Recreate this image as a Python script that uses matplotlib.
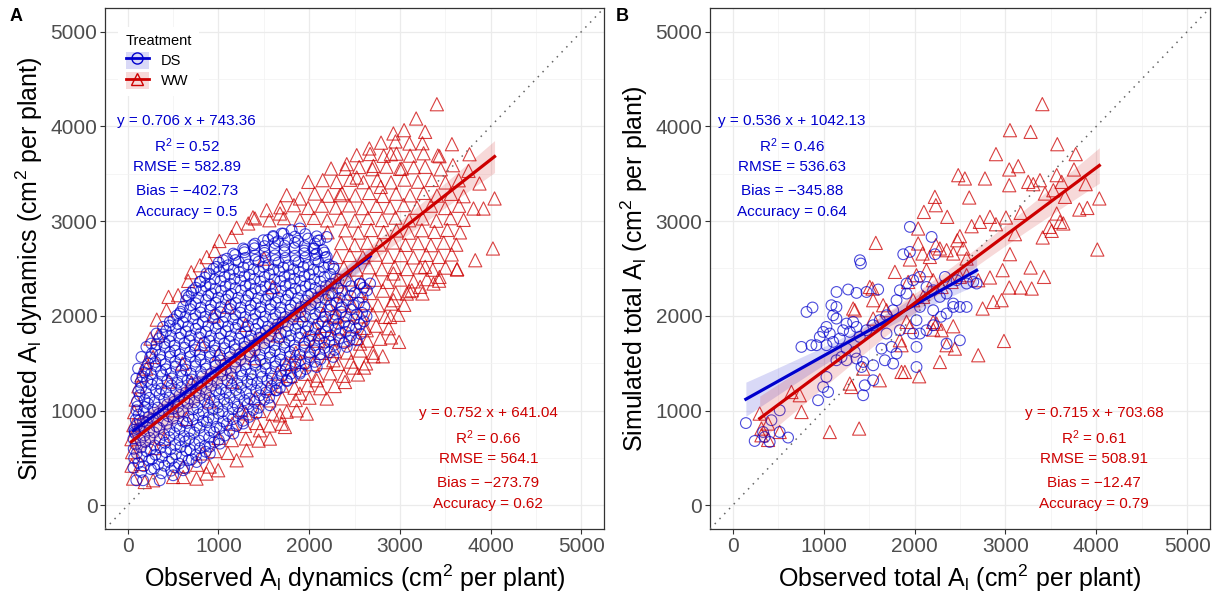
import numpy as np
import matplotlib
matplotlib.use("Agg")
import matplotlib.pyplot as plt
from matplotlib.lines import Line2D
from matplotlib.patches import Patch

plt.rcParams['font.family'] = ['Liberation Sans', 'DejaVu Sans']
plt.rcParams['mathtext.default'] = 'regular'

BLUE = '#0000CD'
RED = '#CD0000'

# ---- panel A: leaf area dynamics, (observed, simulated) pairs ----
ds_dyn = [
    (1898, 2922), (1807, 2904), (1696, 2869), (1604, 2833), (1494, 2798), (1383, 2745), (1273, 2711),
    (1163, 2657), (1052, 2587), (979, 2517), (869, 2447), (795, 2358), (721, 2270), (648, 2218),
    (2193, 2833), (2119, 2798), (2045, 2711), (2193, 2622), (2083, 2657), (2266, 2517), (2561, 2341),
    (2671, 2341), (2524, 1742), (2414, 1672), (2266, 1566), (2083, 1460), (1898, 1390), (1752, 1320),
    (1641, 1214), (1567, 1056), (1420, 968), (1273, 863), (1163, 757), (1015, 651), (905, 546),
    (758, 457), (611, 370), (500, 317), (353, 264), (169, 264), (95, 264), (114, 1443), (95, 1338),
    (151, 1566), (206, 1672), (261, 1707), (317, 1813), (390, 1883), (464, 1936), (574, 2024),
    (188, 1038), (132, 898), (77, 774),
    (148, 352), (255, 381), (372, 338), (478, 366),
    (118, 447), (236, 472), (335, 431), (452, 458), (566, 441), (671, 476),
    (98, 548), (207, 571), (306, 533), (418, 562), (531, 540), (645, 575), (752, 529), (858, 566),
    (88, 642), (193, 668), (297, 631), (412, 659), (523, 637), (634, 672), (737, 646), (851, 625), (954, 668),
    (82, 758), (184, 737), (288, 770), (398, 744), (513, 762), (619, 731), (733, 768), (842, 742),
    (951, 771), (1068, 736),
    (103, 845), (211, 873), (318, 832), (433, 861), (538, 838), (652, 869), (761, 841), (872, 876),
    (978, 829), (1093, 858), (1198, 835),
    (121, 958), (229, 929), (343, 965), (449, 941), (562, 972), (668, 936), (783, 959), (891, 928),
    (1003, 967), (1108, 940), (1224, 971), (1338, 933),
    (108, 1043), (224, 1072), (331, 1031), (437, 1066), (553, 1038), (662, 1074), (768, 1029),
    (884, 1061), (992, 1035), (1097, 1070), (1213, 1041), (1322, 1068), (1443, 1030),
    (133, 1162), (238, 1134), (352, 1171), (458, 1138), (572, 1166), (677, 1129), (793, 1158),
    (902, 1133), (1008, 1173), (1124, 1139), (1228, 1168), (1343, 1127), (1457, 1161), (1558, 1136),
    (148, 1238), (263, 1272), (368, 1231), (483, 1266), (588, 1243), (703, 1275), (808, 1236),
    (923, 1262), (1027, 1229), (1143, 1268), (1248, 1241), (1362, 1273), (1468, 1233), (1583, 1259),
    (1677, 1238),
    (163, 1362), (268, 1331), (383, 1371), (487, 1339), (603, 1365), (707, 1328), (823, 1361),
    (928, 1334), (1043, 1372), (1148, 1343), (1263, 1369), (1367, 1331), (1483, 1358), (1588, 1337),
    (1702, 1366), (1808, 1342),
    (203, 1441), (308, 1469), (423, 1436), (527, 1462), (643, 1431), (748, 1467), (863, 1442),
    (967, 1471), (1083, 1433), (1188, 1459), (1303, 1438), (1407, 1472), (1523, 1444), (1628, 1466),
    (1743, 1432), (1847, 1461), (1962, 1439),
    (247, 1562), (363, 1534), (468, 1568), (583, 1541), (688, 1571), (803, 1537), (907, 1566),
    (1023, 1529), (1127, 1563), (1243, 1538), (1348, 1572), (1463, 1533), (1567, 1561), (1683, 1539),
    (1788, 1568), (1903, 1531), (2007, 1563), (2123, 1542),
    (303, 1642), (407, 1671), (523, 1633), (628, 1662), (743, 1638), (847, 1669), (963, 1631),
    (1067, 1658), (1183, 1644), (1287, 1673), (1403, 1636), (1508, 1661), (1623, 1632), (1727, 1668),
    (1843, 1641), (1947, 1672), (2063, 1635), (2167, 1662), (2283, 1641),
    (347, 1762), (463, 1733), (567, 1768), (683, 1741), (787, 1772), (903, 1736), (1007, 1763),
    (1123, 1731), (1227, 1758), (1343, 1742), (1447, 1769), (1563, 1734), (1667, 1762), (1783, 1738),
    (1887, 1771), (2003, 1735), (2107, 1757), (2223, 1729), (2327, 1761), (2443, 1738),
    (423, 1842), (527, 1868), (643, 1836), (747, 1863), (863, 1831), (967, 1867), (1083, 1839),
    (1187, 1872), (1303, 1834), (1407, 1861), (1523, 1843), (1627, 1869), (1743, 1832), (1847, 1864),
    (1963, 1838), (2067, 1871), (2183, 1835), (2287, 1862), (2403, 1831), (2517, 1866),
    (503, 1961), (607, 1934), (723, 1968), (827, 1941), (943, 1972), (1047, 1936), (1163, 1963),
    (1267, 1929), (1383, 1966), (1487, 1938), (1603, 1971), (1707, 1933), (1823, 1962), (1927, 1937),
    (2043, 1969), (2147, 1941), (2263, 1958), (2383, 1932), (2497, 1964), (2603, 1942),
    (583, 2043), (687, 2071), (803, 2036), (907, 2064), (1023, 2039), (1127, 2072), (1243, 2033),
    (1347, 2062), (1463, 2041), (1567, 2069), (1683, 2032), (1787, 2066), (1903, 2038), (2007, 2071),
    (2123, 2035), (2227, 2063), (2353, 2044), (2457, 2068), (2583, 2031),
    (643, 2162), (747, 2133), (863, 2166), (967, 2139), (1083, 2171), (1187, 2136), (1303, 2163),
    (1407, 2131), (1523, 2168), (1627, 2142), (1743, 2169), (1847, 2134), (1963, 2161), (2067, 2137),
    (2183, 2172), (2303, 2139), (2423, 2164), (2547, 2138),
    (703, 2241), (807, 2268), (923, 2236), (1027, 2263), (1143, 2231), (1247, 2267), (1363, 2238),
    (1467, 2271), (1583, 2233), (1687, 2262), (1803, 2242), (1907, 2269), (2023, 2232), (2127, 2264),
    (2253, 2237), (2367, 2266), (2503, 2243), (2637, 2268),
    (803, 2362), (907, 2334), (1023, 2367), (1127, 2338), (1243, 2371), (1347, 2336), (1463, 2363),
    (1567, 2332), (1683, 2366), (1787, 2341), (1903, 2369), (2007, 2335), (2123, 2362), (2243, 2338),
    (2403, 2366), (2557, 2334),
    (903, 2443), (1007, 2469), (1123, 2437), (1227, 2462), (1343, 2434), (1447, 2468), (1563, 2441),
    (1667, 2472), (1783, 2436), (1887, 2464), (2003, 2439), (2107, 2467), (2233, 2442),
    (1003, 2562), (1107, 2534), (1223, 2568), (1327, 2541), (1443, 2571), (1547, 2536), (1663, 2563),
    (1767, 2532), (1883, 2566), (1987, 2538), (2103, 2569), (2217, 2541),
    (1183, 2643), (1287, 2671), (1403, 2637), (1507, 2664), (1623, 2639), (1727, 2672), (1843, 2634),
    (1947, 2661), (2063, 2642), (2167, 2668),
    (1403, 2762), (1507, 2736), (1623, 2768), (1727, 2741), (1843, 2771), (1947, 2737), (2063, 2764),
    (1603, 2843), (1717, 2868), (1843, 2836), (1957, 2862), (2083, 2839),
    # second sweep of readings between the rows above
    (62, 396), (176, 412), (291, 389), (405, 418), (517, 401), (622, 393),
    (71, 497), (155, 512), (268, 489), (377, 508), (489, 494), (598, 515), (706, 486), (812, 503),
    (66, 596), (148, 611), (252, 588), (363, 607), (471, 592), (582, 614), (689, 585), (796, 603), (905, 619),
    (63, 703), (139, 688), (243, 712), (352, 694), (458, 718), (571, 689), (678, 706), (789, 683),
    (897, 714), (1003, 691),
    (72, 797), (131, 812), (236, 789), (348, 816), (461, 794), (573, 809), (684, 786), (792, 818),
    (906, 791), (1016, 813), (1121, 787),
    (88, 904), (168, 887), (277, 912), (389, 893), (503, 917), (608, 884), (719, 908), (829, 891),
    (942, 914), (1052, 886), (1158, 909), (1271, 892),
    (95, 1003), (176, 988), (281, 1012), (392, 994), (497, 1017), (611, 989), (719, 1011), (833, 986),
    (938, 1009), (1046, 992), (1157, 1016), (1266, 987), (1382, 1007),
    (102, 1097), (187, 1112), (296, 1089), (401, 1116), (513, 1093), (622, 1111), (737, 1087),
    (846, 1114), (953, 1094), (1062, 1118), (1174, 1088), (1286, 1109), (1397, 1092), (1503, 1113),
    (118, 1204), (202, 1189), (312, 1213), (421, 1196), (533, 1218), (641, 1191), (753, 1209),
    (862, 1186), (974, 1214), (1083, 1193), (1192, 1217), (1306, 1188), (1414, 1211), (1526, 1192),
    (1628, 1213),
    (142, 1297), (217, 1312), (327, 1288), (436, 1314), (548, 1293), (658, 1316), (767, 1289),
    (876, 1311), (987, 1294), (1098, 1318), (1207, 1287), (1318, 1309), (1427, 1292), (1538, 1316),
    (1647, 1289), (1754, 1311),
    (182, 1403), (256, 1388), (366, 1412), (474, 1394), (587, 1417), (696, 1391), (806, 1409),
    (918, 1386), (1027, 1414), (1136, 1392), (1248, 1416), (1357, 1387), (1466, 1411), (1577, 1393),
    (1688, 1418), (1797, 1389), (1902, 1409),
    (226, 1497), (304, 1513), (414, 1489), (523, 1515), (636, 1492), (744, 1516), (856, 1487),
    (963, 1512), (1077, 1494), (1184, 1518), (1297, 1489), (1406, 1511), (1516, 1493), (1627, 1517),
    (1737, 1488), (1846, 1512), (1957, 1491), (2061, 1514),
    (268, 1603), (356, 1588), (465, 1613), (574, 1594), (686, 1617), (793, 1589), (906, 1611),
    (1014, 1586), (1126, 1614), (1235, 1592), (1346, 1617), (1456, 1588), (1568, 1612), (1677, 1594),
    (1788, 1618), (1896, 1589), (2008, 1611), (2118, 1593), (2226, 1615),
    (318, 1697), (406, 1713), (515, 1688), (626, 1714), (733, 1691), (846, 1716), (955, 1687),
    (1066, 1711), (1176, 1693), (1286, 1718), (1396, 1689), (1506, 1712), (1617, 1692), (1727, 1716),
    (1837, 1688), (1947, 1713), (2057, 1691), (2168, 1717), (2278, 1694), (2383, 1712),
    (383, 1803), (476, 1788), (586, 1812), (694, 1791), (806, 1816), (916, 1789), (1027, 1811),
    (1136, 1787), (1247, 1814), (1357, 1792), (1466, 1817), (1577, 1788), (1687, 1812), (1796, 1793),
    (1907, 1815), (2017, 1789), (2127, 1811), (2237, 1794), (2347, 1818), (2461, 1791), (2566, 1809),
    (463, 1897), (556, 1913), (666, 1888), (776, 1912), (887, 1893), (996, 1916), (1107, 1889),
    (1216, 1911), (1327, 1892), (1437, 1917), (1547, 1887), (1656, 1912), (1767, 1894), (1876, 1916),
    (1987, 1888), (2097, 1913), (2207, 1891), (2321, 1915), (2441, 1893), (2558, 1911),
    (541, 2003), (636, 1988), (746, 2012), (856, 1992), (966, 2015), (1076, 1989), (1186, 2011),
    (1296, 1987), (1406, 2014), (1516, 1993), (1627, 2016), (1736, 1988), (1847, 2011), (1956, 1994),
    (2066, 2017), (2176, 1989), (2292, 2012), (2406, 1992), (2523, 2015), (2632, 1996),
    (611, 2097), (697, 2113), (807, 2088), (917, 2112), (1027, 2093), (1137, 2116), (1247, 2089),
    (1357, 2111), (1467, 2092), (1577, 2117), (1687, 2088), (1797, 2112), (1907, 2094), (2017, 2116),
    (2127, 2089), (2241, 2113), (2361, 2091), (2486, 2114), (2606, 2095),
    (673, 2203), (777, 2188), (887, 2212), (997, 2191), (1107, 2216), (1217, 2189), (1327, 2211),
    (1437, 2187), (1547, 2214), (1657, 2192), (1767, 2217), (1877, 2188), (1987, 2211), (2097, 2193),
    (2212, 2216), (2332, 2189), (2456, 2212), (2588, 2194),
    (751, 2297), (857, 2313), (967, 2288), (1077, 2312), (1187, 2293), (1297, 2316), (1407, 2289),
    (1517, 2311), (1627, 2292), (1737, 2317), (1847, 2288), (1957, 2312), (2067, 2294), (2187, 2316),
    (2318, 2291), (2462, 2313), (2601, 2296),
    (852, 2403), (957, 2388), (1067, 2412), (1177, 2391), (1287, 2416), (1397, 2389), (1507, 2411),
    (1617, 2387), (1727, 2414), (1837, 2392), (1947, 2417), (2057, 2388), (2167, 2411), (2296, 2393),
    (946, 2497), (1057, 2513), (1167, 2488), (1277, 2512), (1387, 2493), (1497, 2516), (1607, 2489),
    (1717, 2511), (1827, 2492), (1937, 2517), (2047, 2488), (2162, 2511), (2271, 2494),
    (1092, 2603), (1187, 2588), (1297, 2612), (1407, 2591), (1517, 2616), (1627, 2589), (1737, 2611),
    (1847, 2587), (1957, 2614), (2067, 2593), (2177, 2616),
    (1288, 2697), (1397, 2713), (1507, 2688), (1617, 2712), (1727, 2693), (1837, 2716), (1947, 2689),
    (2057, 2711), (2151, 2694),
    (1547, 2803), (1657, 2788), (1767, 2812), (1877, 2791), (1987, 2816), (2097, 2794),
]

ww_dyn = [
    (3407, 4234), (3179, 4083), (3046, 3960), (2928, 3925), (3278, 3942), (2792, 3828), (3105, 3819),
    (3573, 3812), (2663, 3767), (2900, 3706), (2524, 3696), (3436, 3685), (3767, 3706), (2414, 3601),
    (2708, 3583), (3021, 3555), (3278, 3573), (3584, 3590), (2241, 3555), (2524, 3460), (3756, 3530),
    (1990, 3414), (2149, 3432), (3877, 3397), (1752, 3274), (1898, 3239), (2340, 3274), (2789, 3361),
    (4043, 3239), (3811, 3133), (3921, 3133), (1531, 3115), (1678, 3080), (1328, 2975), (1145, 2833),
    (960, 2685), (795, 2534), (666, 2369), (4025, 2711), (3830, 2587), (3628, 2489), (3436, 2411),
    (3278, 2517), (3131, 2270), (2928, 2447),
    (2991, 1725), (2708, 1573), (2811, 1573), (2487, 1454), (2605, 1454), (2395, 1302), (2193, 1127),
    (1973, 968), (1733, 827), (1678, 950), (1567, 704), (1457, 792), (1310, 581), (1200, 475),
    (997, 370), (868, 335), (758, 282), (611, 299), (500, 299), (280, 264), (188, 246), (59, 282),
    (2928, 2165), (3076, 2235), (3223, 2306), (3370, 2341), (2892, 1988), (2634, 1848), (2561, 1707),
    (2266, 1531), (2083, 1320), (1898, 1179), (555, 2218), (335, 1795), (206, 1443), (280, 1566),
    (427, 2059), (870, 2620), (1010, 2790), (1200, 2930), (700, 2460), (450, 2200), (320, 1960),
    (250, 1760), (1380, 3040),
    (42, 418), (142, 436), (612, 411), (763, 428), (903, 409),
    (48, 561), (827, 548), (961, 572), (1103, 553),
    (41, 698), (1002, 712), (1148, 688), (1302, 706), (1443, 683),
    (62, 846), (1152, 862), (1294, 838), (1421, 869), (1563, 842), (1698, 861),
    (71, 984), (1303, 971), (1452, 996), (1598, 967), (1752, 988), (1862, 1002),
    (88, 1116), (1404, 1133), (1561, 1108), (1703, 1129), (1851, 1111), (2003, 1136),
    (118, 1256), (1553, 1238), (1702, 1263), (1838, 1241), (1983, 1268), (2122, 1236), (2281, 1259),
    (152, 1372), (1652, 1391), (1797, 1366), (1952, 1388), (2093, 1369), (2232, 1393), (2381, 1367),
    (2538, 1381),
    (203, 1508), (1748, 1492), (1902, 1514), (2041, 1489), (2183, 1511), (2318, 1493), (2462, 1517),
    (2627, 1498),
    (1853, 1611), (2003, 1633), (2138, 1609), (2283, 1628), (2418, 1613), (2562, 1634), (2703, 1611),
    (1952, 1761), (2098, 1738), (2243, 1763), (2378, 1741), (2522, 1766), (2641, 1739), (2783, 1758),
    (2902, 1772),
    (2052, 1872), (2188, 1894), (2331, 1868), (2468, 1891), (2603, 1873), (2738, 1896), (2877, 1869),
    (2152, 2012), (2288, 1991), (2433, 2016), (2571, 1994), (2702, 2014), (2838, 1989), (2983, 2011),
    (2203, 2113), (2342, 2131), (2478, 2109), (2622, 2134), (2758, 2112), (2902, 2129), (3048, 2116),
    (2252, 2257), (2388, 2238), (2531, 2263), (2668, 2241), (2812, 2266), (2953, 2239), (3102, 2261),
    (3248, 2236),
    (2302, 2362), (2441, 2384), (2578, 2359), (2722, 2381), (2861, 2358), (3002, 2383), (3151, 2364),
    (3298, 2387), (3432, 2371),
    (2381, 2508), (2522, 2489), (2658, 2513), (2801, 2492), (2942, 2516), (3078, 2494), (3221, 2512),
    (3362, 2487), (3502, 2509), (3631, 2493),
    (2302, 2621), (2448, 2643), (2592, 2619), (2731, 2646), (2868, 2624), (3012, 2641), (3148, 2617),
    (3291, 2644), (3428, 2622), (3571, 2648),
    (2353, 2768), (2502, 2747), (2641, 2771), (2778, 2752), (2922, 2774), (3061, 2749), (3198, 2768),
    (3341, 2746), (3482, 2772), (3621, 2751),
    (2203, 2882), (2398, 2903), (2541, 2879), (2682, 2906), (2821, 2884), (2962, 2901), (3098, 2878),
    (3242, 2904), (3381, 2886), (3522, 2907), (3662, 2881),
    (1402, 3028), (1561, 3009), (1722, 3031), (1898, 3012), (2052, 3034), (2198, 3008), (2352, 3029),
    (2503, 3006), (2648, 3033), (2802, 3011), (2951, 3036), (3102, 3009), (3251, 3028), (3402, 3004),
    (3558, 3031), (3702, 3013),
    (1683, 3146), (1832, 3168), (1988, 3139), (2141, 3163), (2292, 3142), (2441, 3166), (2588, 3137),
    (2742, 3161), (2891, 3144), (3042, 3169), (3188, 3141), (3342, 3163), (3498, 3138), (3652, 3162),
    (2061, 3291), (2208, 3268), (2362, 3294), (2509, 3271), (2661, 3297), (2812, 3266), (2958, 3289),
    (3112, 3272), (3261, 3298), (3408, 3269), (3562, 3288), (3702, 3263),
    (2301, 3413), (2452, 3436), (2598, 3411), (2751, 3432), (2902, 3409), (3051, 3438), (3198, 3416),
    (3352, 3434), (3501, 3408), (3648, 3431),
    (2398, 3552), (2551, 3571), (2698, 3548), (2852, 3574), (3001, 3551), (3152, 3569), (3451, 3547),
    (2672, 3708), (2821, 3689), (2962, 3712), (3112, 3691), (3261, 3716), (3418, 3693),
    (2951, 3841), (3248, 3822),
    (402, 703), (648, 912), (903, 1097), (1152, 1306), (1398, 1553), (1652, 1794), (1903, 2008),
    (703, 1297), (1004, 1602), (1297, 1904), (497, 1003), (806, 1702), (1103, 2097), (1598, 2303),
    (298, 604), (602, 1496), (1253, 1004), (1801, 1497), (2102, 1806), (2297, 2004), (452, 1306),
    (948, 2003), (1502, 2604),
]

# ---- panel B: total leaf area, (observed, simulated) pairs ----
ds_total = [
    (1086, 2112), (1141, 2094), (1105, 2006), (1141, 1971), (1031, 1883), (995, 1830), (1068, 1813),
    (958, 1777), (921, 1690), (1031, 1690), (756, 1672), (866, 1690), (1105, 1725), (1178, 1760),
    (1215, 1848), (1252, 1918), (1325, 1936), (1362, 1883), (1288, 1830), (1398, 1777), (1472, 1848),
    (1545, 1901), (1618, 1954), (1692, 2006), (1765, 2059), (1802, 2165), (1839, 2270), (1912, 2341),
    (1985, 2376), (2059, 2411), (2132, 2305), (2205, 2270), (2279, 2200), (2353, 2235), (2426, 2130),
    (2499, 2094), (2573, 2094), (2353, 2024), (2205, 2059), (2059, 2094), (2022, 1954), (1985, 1813),
    (2059, 1813), (2022, 1672), (2132, 1848), (2205, 1901), (2353, 1707), (2499, 1742), (2646, 2358),
    (2683, 2341), (1839, 1848), (1692, 1813), (1637, 1654), (1747, 1672), (1802, 1602), (1674, 1531),
    (1765, 1496), (1545, 1478), (1435, 1513), (1417, 1460), (1362, 1549), (1252, 1531), (1197, 1566),
    (1141, 1531), (1031, 1355), (995, 1249), (1049, 1196), (939, 1109), (1453, 1267), (1435, 1162),
    (1545, 1320), (2022, 1460), (1252, 1654), (1343, 1619), (145, 868), (242, 679), (334, 774),
    (352, 721), (407, 669), (426, 898), (517, 1003), (517, 774), (609, 715),
    (1399, 2587), (1410, 2552), (1876, 2650), (1949, 2675), (2225, 2650), (812, 2041), (878, 2088),
    (1142, 2252), (1270, 2278), (1362, 2242), (1472, 2252), (1600, 2278), (1949, 2939), (2188, 2833),
    (2335, 2411), (2463, 2376), (2573, 2341), (1912, 2235), (2426, 2094), (2290, 1990),
]

ww_total = [
    (3406, 4235), (3050, 3960), (3277, 3942), (3571, 3812), (2896, 3707), (3773, 3707), (3042, 3545),
    (3141, 3580), (3754, 3545), (2481, 3485), (2554, 3450), (2775, 3450), (3042, 3379), (3251, 3414),
    (3306, 3390), (3380, 3432), (3564, 3485), (3619, 3414), (3883, 3390), (3435, 3291), (3527, 3326),
    (3655, 3256), (2224, 3256), (2235, 3168), (2602, 3249), (4033, 3239), (3901, 3139), (3813, 3122),
    (2103, 3097), (2360, 3045), (2830, 3045), (3006, 3038), (3168, 3087), (3564, 3080), (3600, 2992),
    (3637, 2975), (2719, 2992), (2896, 2967), (2628, 2946), (3483, 2939), (3509, 2897), (3410, 2827),
    (3105, 2862), (2040, 2922), (2499, 2841), (4011, 2700), (1574, 2770), (2040, 2764), (2235, 2746),
    (2279, 2711), (2353, 2693), (2470, 2798), (2536, 2711), (3050, 2651), (2426, 2658), (2089, 2658),
    (2169, 2622), (1949, 2595), (2573, 2605), (2969, 2482), (3277, 2510), (3424, 2411), (2830, 2405),
    (3042, 2299), (3168, 2299), (3289, 2288),
    (2958, 2165), (2866, 2147), (2749, 2077), (2426, 1890), (2205, 1855), (2298, 1848), (2984, 1735),
    (2444, 1654), (2353, 1690), (2701, 1584), (2279, 1513), (1857, 1408), (1894, 1408), (2051, 1362),
    (1618, 1320), (1435, 1443), (1288, 1285), (1306, 1249), (738, 1162), (757, 985), (646, 1196),
    (1068, 774), (1391, 810), (297, 968), (316, 810), (316, 739), (389, 690), (517, 774), (389, 863),
    (1545, 2165), (1508, 2305), (1325, 2077), (1655, 2112), (1912, 1936), (1839, 1742), (1857, 1690),
    (1949, 1883), (2205, 1936), (2243, 1918), (1784, 2464), (1930, 2358), (2022, 2429), (2132, 2482),
    (2205, 2376), (2298, 2305), (2408, 2358), (2499, 2411), (2573, 2429), (2701, 2376), (1545, 1971),
    (1692, 2059), (1985, 2165), (2095, 2200), (1538, 2288), (1343, 2059),
]

# fitted lines and goodness-of-fit statistics per treatment
fit_dyn = {'DS': (0.706, 743.36), 'WW': (0.752, 641.04)}
fit_total = {'DS': (0.536, 1042.13), 'WW': (0.715, 703.68)}
stats_dyn = {'DS': ('0.706', '743.36', '0.52', '582.89', '\u2212402.73', '0.5'),
             'WW': ('0.752', '641.04', '0.66', '564.1', '\u2212273.79', '0.62')}
stats_total = {'DS': ('0.536', '1042.13', '0.46', '536.63', '\u2212345.88', '0.64'),
               'WW': ('0.715', '703.68', '0.61', '508.91', '\u221212.47', '0.79')}


def draw_fit(ax, pts, slope, intercept, color):
    x, y = pts[:, 0], pts[:, 1]
    xs = np.linspace(x.min(), x.max(), 100)
    fit = slope * xs + intercept
    resid = y - (slope * x + intercept)
    n = len(x)
    s = np.sqrt(np.sum(resid ** 2) / (n - 2))
    se = s * np.sqrt(1 / n + (xs - x.mean()) ** 2 / np.sum((x - x.mean()) ** 2))
    ax.fill_between(xs, fit - 1.96 * se, fit + 1.96 * se, color=color, alpha=0.15, lw=0, zorder=4)
    ax.plot(xs, fit, color=color, lw=2.3, zorder=5)


def stat_block(ax, x, y_top, vals, color):
    slope, icpt, r2, rmse, bias, acc = vals
    lines = [f'y = {slope} x + {icpt}', f'R$^2$ = {r2}', f'RMSE = {rmse}',
             f'Bias = {bias}', f'Accuracy = {acc}']
    offsets = [0, 265, 490, 740, 960]
    for txt, off in zip(lines, offsets):
        ax.text(x, y_top - off, txt, color=color, fontsize=11, ha='center', va='center', zorder=6)


def style_axes(ax, xlabel, ylabel):
    ax.set_xlim(-250, 5250)
    ax.set_ylim(-250, 5250)
    ticks = [0, 1000, 2000, 3000, 4000, 5000]
    ax.set_xticks(ticks)
    ax.set_yticks(ticks)
    ax.set_xticks([500, 1500, 2500, 3500, 4500], minor=True)
    ax.set_yticks([500, 1500, 2500, 3500, 4500], minor=True)
    ax.grid(which='major', color='#EBEBEB', lw=0.9, zorder=0)
    ax.grid(which='minor', color='#F2F2F2', lw=0.5, zorder=0)
    ax.set_axisbelow(True)
    ax.tick_params(which='major', length=3.5, color='#333333', labelsize=15,
                   labelcolor='#4D4D4D', width=0.8, pad=2)
    ax.tick_params(which='minor', length=0)
    for sp in ax.spines.values():
        sp.set_color('#333333')
        sp.set_linewidth(0.9)
    ax.set_xlabel(xlabel, fontsize=18, labelpad=5)
    ax.set_ylabel(ylabel, fontsize=18, labelpad=4)
    ax.plot([-250, 5250], [-250, 5250], color='#666666', ls=(0, (1, 3.5)), lw=1.1, zorder=3)


fig = plt.figure(figsize=(12.13, 5.99), dpi=100)
ax_a = fig.add_axes([0.0866, 0.1169, 0.4114, 0.8698])
ax_b = fig.add_axes([0.5853, 0.1169, 0.4122, 0.8698])

panels = [
    (ax_a, np.array(ds_dyn, float), np.array(ww_dyn, float), fit_dyn, stats_dyn,
     'Observed A$_l$ dynamics (cm$^2$ per plant)', 'Simulated A$_l$ dynamics (cm$^2$ per plant)'),
    (ax_b, np.array(ds_total, float), np.array(ww_total, float), fit_total, stats_total,
     'Observed total A$_l$ (cm$^2$ per plant)', 'Simulated total A$_l$ (cm$^2$ per plant)'),
]

for ax, ds, ww, fits, stats, xl, yl in panels:
    style_axes(ax, xl, yl)
    ax.scatter(ww[:, 0], ww[:, 1], s=90, marker='^', facecolors='none', edgecolors=RED,
               linewidths=0.8, alpha=0.75, zorder=2)
    ax.scatter(ds[:, 0], ds[:, 1], s=60, marker='o', facecolors='none', edgecolors=BLUE,
               linewidths=0.8, alpha=0.7, zorder=2)
    draw_fit(ax, ds, *fits['DS'], BLUE)
    draw_fit(ax, ww, *fits['WW'], RED)
    stat_block(ax, 650, 4060, stats['DS'], BLUE)
    stat_block(ax, 3975, 975, stats['WW'], RED)

handles = [
    (Patch(facecolor=BLUE, alpha=0.15, lw=0),
     Line2D([], [], color=BLUE, lw=2, marker='o', mfc='none', ms=8)),
    (Patch(facecolor=RED, alpha=0.15, lw=0),
     Line2D([], [], color=RED, lw=2, marker='^', mfc='none', ms=9)),
]
leg = ax_a.legend(handles, ['DS', 'WW'], title='Treatment', loc='upper left',
                  bbox_to_anchor=(0.012, 0.978), fontsize=10.5, title_fontsize=10.5,
                  frameon=True, facecolor='white', edgecolor='none', framealpha=1,
                  handlelength=1.6, handleheight=1.4, labelspacing=0.25, borderpad=0.5)
leg._legend_box.align = 'left'
leg.set_zorder(7)

fig.text(0.008, 0.972, 'A', fontsize=13, fontweight='bold', va='center')
fig.text(0.508, 0.972, 'B', fontsize=13, fontweight='bold', va='center')

fig.savefig('out.png', dpi=100)
